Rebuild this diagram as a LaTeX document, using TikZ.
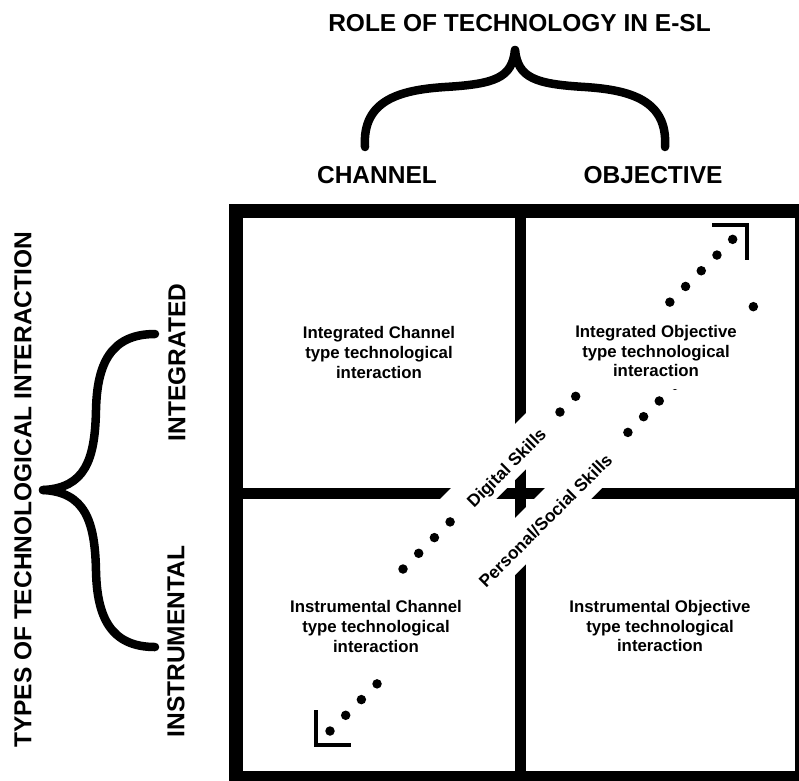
\documentclass[tikz,border=0pt]{standalone}
\usepackage{fontspec}
\setmainfont{Liberation Sans}
\usepackage{tikz}

\begin{document}
\begin{tikzpicture}[x=1pt,y=-1pt]
	\tikzstyle{caplabel}=[font=\fontsize{24.5}{29}\selectfont\bfseries, inner sep=0pt]
	\tikzstyle{celltext}=[font=\fontsize{16.8}{19.8}\selectfont\bfseries, align=center, fill=white, inner sep=0pt, minimum width=192pt, minimum height=78pt]
	\tikzstyle{skilllabel}=[font=\fontsize{17.4}{19.8}\selectfont\bfseries, fill=white, rotate=45, inner sep=0pt, anchor=base]
	\tikzstyle{skilldots}=[line width=9.5pt, line cap=round, dash pattern=on 0pt off 22.2pt]
	\tikzstyle{corner}=[line width=3.5pt]
	\tikzstyle{brace}=[line width=8.5pt, line cap=round, line join=round]

	\useasboundingbox (0,0) rectangle (799,780);
	\clip (0,0) rectangle (799,780);
	\fill[white] (0,0) rectangle (799,780);

	% matrix
	\draw[line width=14pt] (235.5,211) rectangle (802,778);
	\draw[line width=11pt] (520.5,211) -- (520.5,778);
	\draw[line width=11pt] (235.5,493) -- (802,493);

	% dotted arrows
	\coordinate (dstart) at (403,569);
	\coordinate (dend) at (733,239);
	\coordinate (dtip) at (747,225);
	\coordinate (pstart) at (754,306);
	\coordinate (pend) at (330,731);
	\coordinate (ptip) at (316,745);
	\draw[skilldots] (dstart) -- (dend);
	\draw[skilldots] (pend) -- (pstart);
	\draw[corner] ([xshift=-35pt]dtip) -- (dtip) -- ([yshift=-35pt]dtip);
	\draw[corner] ([yshift=35pt]ptip) -- (ptip) -- ([xshift=35pt]ptip);

	\draw node[skilllabel, text height=31pt, text depth=8.5pt, minimum width=139.3pt] at (510.75,472.25) (digital) {Digital Skills};
	\draw node[skilllabel, text height=29.3pt, text depth=11pt, minimum width=219.2pt] at (549.75,524.75) (personal) {Personal/Social Skills};

	% cells
	\draw node[celltext] at (379,352.5) (intchan) {Integrated Channel\\type technological\\interaction};
	\draw node[celltext, minimum width=184pt, minimum height=76pt] at (656,351) (intobj) {Integrated Objective\\type technological\\interaction};
	\draw node[celltext, minimum height=97pt] at (376,626.5) (inschan) {Instrumental Channel\\type technological\\interaction};
	\draw node[celltext] at (660,626) (insobj) {Instrumental Objective\\type technological\\interaction};

	% braces
	\draw[brace] (365,147) .. controls (362,100) and (400,90) .. (445,87) .. controls (495,84) and (512,78) .. (515,50);
	\draw[brace] (665,147) .. controls (668,100) and (630,90) .. (585,87) .. controls (535,84) and (518,78) .. (515,50);
	\draw[brace] (155,334) .. controls (110,334) and (97,365) .. (96,410) .. controls (95,460) and (85,488) .. (43,490);
	\draw[brace] (155,647) .. controls (110,647) and (97,616) .. (96,571) .. controls (95,521) and (85,492) .. (43,490);

	\draw node[caplabel] at (519.5,23.5) (role) {ROLE OF TECHNOLOGY IN E-SL};
	\draw node[caplabel] at (377,175) (channel) {CHANNEL};
	\draw node[caplabel] at (653,175) (objective) {OBJECTIVE};
	\draw node[caplabel, rotate=90] at (23,490) (types) {TYPES OF TECHNOLOGICAL INTERACTION};
	\draw node[caplabel, rotate=90] at (177,362.5) (integrated) {INTEGRATED};
	\draw node[caplabel, rotate=90] at (176,641.5) (instrumental) {INSTRUMENTAL};
\end{tikzpicture}
\end{document}
